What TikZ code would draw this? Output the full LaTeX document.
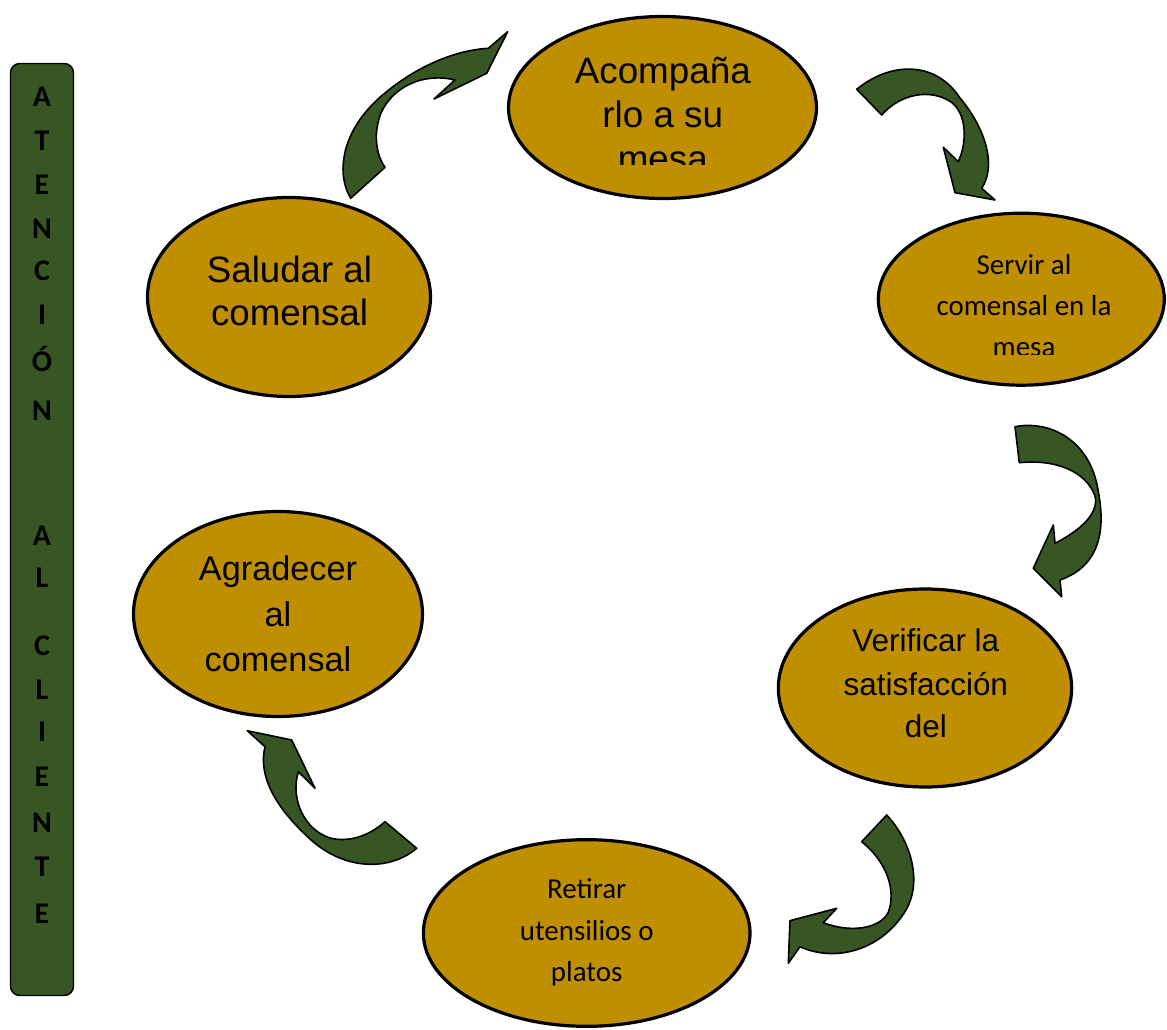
\documentclass[tikz,border=0pt]{standalone}
\usepackage{fontspec}
\usetikzlibrary{shapes.geometric}
\newfontfamily\arialf{Liberation Sans}
\newfontfamily\calibrif{Carlito}
\definecolor{gold}{HTML}{BF8F00}
\definecolor{leaf}{HTML}{375623}
\tikzset{
  stage/.style={ellipse, draw=black, line width=2.4pt, fill=gold, inner sep=0pt},
  lbl/.style={anchor=base, inner sep=0pt, text=black},
  bigtxt/.style={lbl, font=\arialf\fontsize{#1}{#1}\selectfont},
  smalltxt/.style={lbl, font=\calibrif\fontsize{21.7}{21.7}\selectfont},
  barletter/.style={lbl, font=\calibrif\bfseries\fontsize{22.5}{22.5}\selectfont},
  bendarrow/.style={fill=leaf, draw=black, line width=1.2pt, line join=round},
  sidebar/.style={rectangle, rounded corners=7pt, draw=black, line width=1.1pt, fill=leaf, inner sep=0pt,
    minimum width=47.25pt, minimum height=699pt}
}
\begin{document}
\begin{tikzpicture}[x=0.75pt, y=-0.75pt]
\useasboundingbox (0,0) rectangle (1167,1030);

% side banner
\node[sidebar] (bar) at (42,529.5) {};
\foreach \ch/\yb [count=\i] in {A/107, T/151, E/195, N/239, C/281, I/325, Ó/372, N/421,
                                A/545, L/587, C/655, L/699, I/741, E/786, N/832, T/876, E/923}
  \node[barletter] (bar\i) at (42,\yb) {\ch};

% stages of the service cycle
\node[stage, minimum width=231pt,   minimum height=136.5pt]  (acomp)   at (662.5,107.5) {};
\node[stage, minimum width=214.5pt, minimum height=129pt]    (servir)  at (1021.3,299.2) {};
\node[stage, minimum width=220pt,   minimum height=148.5pt]  (verif)   at (925,688) {};
\node[stage, minimum width=245pt,   minimum height=140pt]    (retirar) at (586.7,933) {};
\node[stage, minimum width=216.75pt,minimum height=153.75pt] (agrad)   at (278,614) {};
\node[stage, minimum width=212.25pt,minimum height=149.25pt] (saludar) at (289,297) {};

% stage texts
\begin{scope}
  \clip (500,0) rectangle (830,164.3);
  \node[bigtxt=27.6] (acompA) at (662.8,83.5)  {Acompaña};
  \node[bigtxt=27.6] (acompB) at (662.8,127.5) {rlo a su};
  \node[bigtxt=27.6] (acompC) at (662.8,171.5) {mesa};
\end{scope}

\begin{scope}
  \clip (870,200) rectangle (1167,355);
  \node[smalltxt] (servirA) at (1024,275) {Servir al};
  \node[smalltxt] (servirB) at (1024,316) {comensal en la};
  \node[smalltxt] (servirC) at (1024,357) {mesa};
\end{scope}

\node[bigtxt=23.6] (verifA) at (925.8,651.7) {Verificar la};
\node[bigtxt=23.6] (verifB) at (925.8,695)   {satisfacción};
\node[bigtxt=23.6] (verifC) at (925.8,737)   {del};

\node[smalltxt] (retirarA) at (586.7,898.3) {Retirar};
\node[smalltxt] (retirarB) at (586.7,940)   {utensilios o};
\node[smalltxt] (retirarC) at (586.7,981.7) {platos};

\node[bigtxt=25.7] (agradA) at (278,580.7) {Agradecer};
\node[bigtxt=25.7] (agradB) at (278,626)   {al};
\node[bigtxt=25.7] (agradC) at (278,671.7) {comensal};

\node[bigtxt=27.5] (saludarA) at (289.5,283) {Saludar al};
\node[bigtxt=27.5] (saludarB) at (289.5,326) {comensal};

% curved block arrows between the stages
% saludar -> acompanar
\filldraw[bendarrow] (350.7,198.3) .. controls (335,172) and (342,128) .. (385,93)
  .. controls (420,64) and (458,50) .. (488.3,48.3)
  -- (507.7,31.7) -- (486.7,73.3) -- (434,99) -- (455,80)
  .. controls (422,72) and (392,88) .. (381,113)
  .. controls (373,133) and (376,155) .. (385,167.3)
  -- cycle;

% acompanar -> servir
\filldraw[bendarrow] (856.7,89.3) .. controls (890,62) and (935,60) .. (960,98)
  .. controls (985,128) and (997,165) .. (981.7,188.3)
  -- (995,200) -- (955,192.7) -- (943.3,147.3) -- (958.3,161.7)
  .. controls (968,140) and (966,113) .. (951,102)
  .. controls (930,88) and (900,94) .. (881.7,115)
  -- cycle;

% servir -> verificar
\filldraw[bendarrow] (1015,426.7) .. controls (1050,420) and (1090,440) .. (1098,490)
  .. controls (1106,530) and (1100,566) .. (1060,580)
  -- (1061.7,596.7) -- (1033.3,568.3) -- (1053.3,525) -- (1055,543.3)
  .. controls (1083,529) and (1099,512) .. (1095,496)
  .. controls (1086,471) and (1055,459) .. (1019.3,462.7)
  -- cycle;

% verificar -> retirar
\filldraw[bendarrow] (886.7,815) .. controls (910,840) and (923,880) .. (906,910)
  .. controls (882,950) and (836,963) .. (800,946.7)
  -- (788.3,963.3) -- (790,920.7) -- (836.7,908.3) -- (823.3,922.7)
  .. controls (850,933) and (879,929) .. (888,913)
  .. controls (897,890) and (886,861) .. (861.7,841.7)
  -- cycle;

% retirar -> agradecer
\filldraw[bendarrow] (416.7,848.3) .. controls (390,871) and (345,871) .. (310,839)
  .. controls (275,807) and (258,776) .. (265,746.7)
  -- (247.3,730.7) -- (291.7,740) -- (315,788.3) -- (298.3,771.7)
  .. controls (290,800) and (305,830) .. (330,838)
  .. controls (350,843) and (370,835) .. (385,821.7)
  -- cycle;
\end{tikzpicture}
\end{document}
